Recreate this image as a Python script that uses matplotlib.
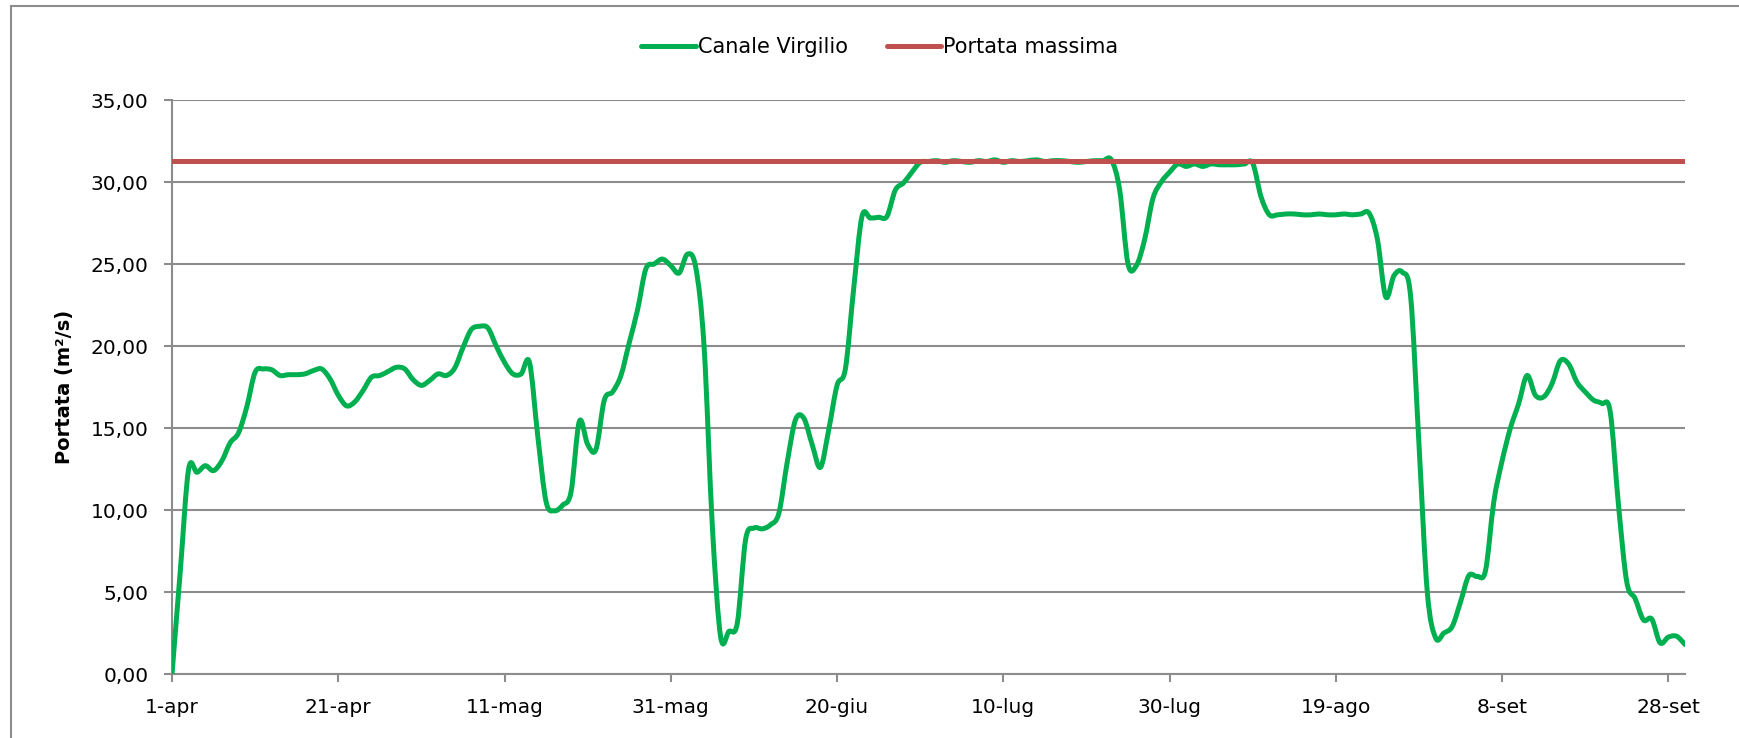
import matplotlib
matplotlib.use("Agg")
import matplotlib.pyplot as plt
from matplotlib.patches import Rectangle, PathPatch
from matplotlib.path import Path
from matplotlib.lines import Line2D
from matplotlib.ticker import FuncFormatter

plt.rcParams['font.family'] = ['DejaVu Sans']

# portata giornaliera Canale Virgilio, 1-apr ... 30-set
portata = [
    0.0, 6.3, 12.5, 12.3, 12.7, 12.4, 13.0, 14.1, 14.7, 16.3,
    18.4, 18.6, 18.55, 18.2, 18.25, 18.25, 18.3, 18.5, 18.6, 18.0,
    17.0, 16.35, 16.6, 17.3, 18.1, 18.2, 18.45, 18.7, 18.6, 17.95,
    17.6, 17.9, 18.3, 18.2, 18.65, 19.9, 21.0, 21.2, 21.1, 20.0,
    19.0, 18.3, 18.3, 19.0, 14.5, 10.5, 9.95, 10.3, 11.1, 15.4,
    14.0, 13.7, 16.7, 17.2, 18.2, 20.2, 22.2, 24.7, 25.0, 25.3,
    24.9, 24.45, 25.6, 24.8, 20.0, 9.0, 2.25, 2.6, 3.1, 8.2,
    8.9, 8.85, 9.1, 9.8, 12.9, 15.5, 15.6, 14.0, 12.6, 14.9,
    17.6, 18.6, 23.5, 27.9, 27.8, 27.85, 27.9, 29.5, 29.95, 30.6,
    31.2, 31.25, 31.3, 31.2, 31.3, 31.25, 31.2, 31.3, 31.25, 31.35,
    31.2, 31.3, 31.25, 31.3, 31.35, 31.25, 31.3, 31.3, 31.25, 31.2,
    31.25, 31.3, 31.3, 31.35, 29.5, 25.0, 24.9, 26.5, 29.0, 30.0,
    30.6, 31.1, 30.95, 31.1, 30.95, 31.1, 31.05, 31.05, 31.05, 31.1,
    31.15, 29.1, 28.0, 28.0, 28.05, 28.05, 28.0, 28.0, 28.05, 28.0,
    28.0, 28.05, 28.0, 28.05, 28.1, 26.5, 23.0, 24.3, 24.5, 23.0,
    14.0, 5.0, 2.2, 2.5, 2.9, 4.4, 6.0, 5.95, 6.3, 10.5,
    13.0, 15.0, 16.5, 18.2, 17.0, 16.9, 17.7, 19.1, 18.9, 17.8,
    17.2, 16.7, 16.5, 16.0, 10.3, 5.6, 4.6, 3.3, 3.35, 1.9,
    2.25, 2.3, 1.8,
]
portata_massima = 31.3
giorni = list(range(len(portata)))

tick_giorni = [0, 20, 40, 60, 80, 100, 120, 140, 160, 180]
tick_labels = ['1-apr', '21-apr', '11-mag', '31-mag', '20-giu',
               '10-lug', '30-lug', '19-ago', '8-set', '28-set']

VERDE = '#00B050'
ROSSO = '#C0504D'
GRIGIO = '#8c8c8c'


def linea_smussata(x, y):
    # curva di Bezier come la "linea smussata" di Excel
    n = len(x)
    verts = [(x[0], y[0])]
    codes = [Path.MOVETO]
    for i in range(n - 1):
        i0 = max(i - 1, 0)
        i3 = min(i + 2, n - 1)
        c1 = (x[i] + (x[i + 1] - x[i0]) / 6, y[i] + (y[i + 1] - y[i0]) / 6)
        c2 = (x[i + 1] - (x[i3] - x[i]) / 6, y[i + 1] - (y[i3] - y[i]) / 6)
        verts += [c1, c2, (x[i + 1], y[i + 1])]
        codes += [Path.CURVE4] * 3
    return Path(verts, codes)


fig = plt.figure(figsize=(17.4, 7.38), dpi=100)
ax = fig.add_axes([172 / 1740, 1 - 674 / 738, (1685 - 172) / 1740, (674 - 100) / 738])

ax.add_patch(PathPatch(linea_smussata(giorni, portata), fill=False, edgecolor=VERDE,
                       lw=3.6, capstyle='round', joinstyle='round', zorder=3))
ax.plot(giorni, [portata_massima] * len(giorni), color=ROSSO, lw=3.6,
        solid_capstyle='round', zorder=4)

ax.set_xlim(0, len(portata) - 1)
ax.set_ylim(0, 35)
ax.set_yticks(range(0, 36, 5))
ax.yaxis.set_major_formatter(FuncFormatter(lambda v, p: f"{v:.2f}".replace('.', ',')))
ax.set_xticks(tick_giorni)
ax.set_xticklabels(tick_labels)

ax.grid(axis='y', color=GRIGIO, lw=1.5)
ax.set_axisbelow(True)
for s in ['top', 'right']:
    ax.spines[s].set_visible(False)
for s in ['left', 'bottom']:
    ax.spines[s].set_color(GRIGIO)
    ax.spines[s].set_linewidth(1.5)
ax.tick_params(axis='both', length=6, width=1.5, color=GRIGIO, labelsize=14.5)
ax.tick_params(axis='x', pad=11)
ax.tick_params(axis='y', pad=11)

ax.set_ylabel('Portata (m²/s)', fontsize=14, fontweight='bold', labelpad=12)

handles = [Line2D([], [], color=VERDE, lw=3.6, solid_capstyle='round'),
           Line2D([], [], color=ROSSO, lw=3.6, solid_capstyle='round')]
fig.legend(handles, ['Canale Virgilio', 'Portata massima'], loc='center',
           bbox_to_anchor=(880 / 1740, 1 - 47 / 738), ncol=2,
           frameon=False, fontsize=15, handlelength=2.6, handletextpad=0.1,
           columnspacing=1.9)

# bordo grigio dell'area grafico
fig.patches.append(Rectangle((11 / 1740, -0.1), 1.2, 1.1 - 6 / 738,
                             transform=fig.transFigure, fill=False,
                             edgecolor=GRIGIO, lw=1.5))

fig.savefig('out.png', dpi=100)
